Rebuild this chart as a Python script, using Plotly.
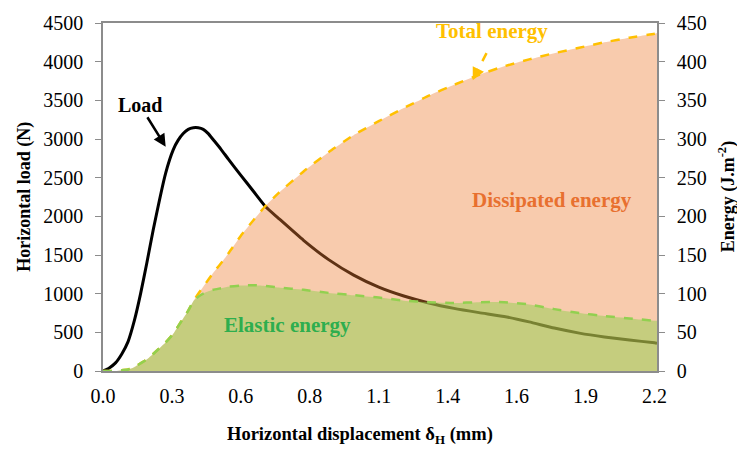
import plotly.graph_objects as go

# displacement (mm) and readings from the curves
disp = [0, 0.025, 0.05, 0.075, 0.1, 0.125, 0.15, 0.175, 0.2, 0.25, 0.28, 0.3, 0.32, 0.34, 0.36, 0.38,
        0.4, 0.42, 0.44, 0.47, 0.5, 0.55, 0.6, 0.65, 0.7, 0.8, 0.9, 1.0, 1.1, 1.2, 1.3,
        1.4, 1.5, 1.6, 1.7, 1.8, 1.9, 2.0, 2.1, 2.2, 2.21]
load = [0, 40, 105, 220, 380, 650, 1000, 1400, 1820, 2560, 2860, 2985, 3070, 3125, 3145, 3145,
        3125, 3070, 2990, 2870, 2740, 2530, 2325, 2120, 1975, 1690, 1440, 1240, 1085, 970, 880,
        810, 755, 705, 635, 555, 490, 440, 400, 365, 360]
total_energy = [0, 0, 0, 1, 2, 5, 10, 15, 22, 37, 48, 58, 68, 78, 90, 100,
                109, 118, 127, 139, 152, 175, 195, 214, 230, 258, 283, 305, 323, 340, 356,
                370, 383, 394, 403, 411, 418, 425, 431, 436, 437]
elastic_energy = [0, 0, 0, 1, 2, 5, 10, 15, 22, 37, 48, 58, 68, 78, 90, 96,
                  100, 103, 105, 107, 109, 110.5, 111, 110, 108, 105, 101, 98, 95, 91, 89,
                  88, 89, 89, 86, 80, 75, 71, 68, 65, 65]

x_ticks = [0, 0.275, 0.55, 0.825, 1.1, 1.375, 1.65, 1.925, 2.2]
x_labels = ["0.0", "0.3", "0.6", "0.8", "1.1", "1.4", "1.6", "1.9", "2.2"]

FONT = "Liberation Serif"
AXIS_GREY = "#8c8c8c"

fig = go.Figure()

# load curve on the left axis (drawn underneath the energy areas)
fig.add_trace(go.Scatter(x=disp, y=load, mode="lines", name="Load",
                         line=dict(color="black", width=3, shape="spline", smoothing=0.5),
                         yaxis="y"))

# total energy area
fig.add_trace(go.Scatter(x=disp, y=total_energy, mode="lines", name="Total energy",
                         fill="tozeroy", fillcolor="rgba(237,125,49,0.4)",
                         line=dict(color="#FFC000", width=2.5, dash="dash", shape="spline", smoothing=0.5),
                         yaxis="y2"))

# elastic energy area
fig.add_trace(go.Scatter(x=disp, y=elastic_energy, mode="lines", name="Elastic energy",
                         fill="tozeroy", fillcolor="rgba(146,208,80,0.5)",
                         line=dict(color="#92D050", width=2.5, dash="dash", shape="spline", smoothing=0.5),
                         yaxis="y2"))

tickfont = dict(family=FONT, size=20, color="black")

fig.update_layout(
    width=737, height=452,
    margin=dict(l=103, r=80, t=18, b=81),
    paper_bgcolor="white", plot_bgcolor="white",
    showlegend=False,
    font=dict(family=FONT, color="black"),
    xaxis=dict(range=[0, 2.21], tickvals=x_ticks, ticktext=x_labels, tickfont=tickfont,
               showgrid=False, zeroline=False, showline=True, linecolor=AXIS_GREY,
               linewidth=1.5, mirror=True, ticks="", ticklabelstandoff=6),
    yaxis=dict(range=[0, 4500], dtick=500, tickfont=tickfont, showgrid=False, zeroline=False,
               showline=True, linecolor=AXIS_GREY, linewidth=1.5, mirror=True,
               ticks="outside", ticklen=6, tickcolor=AXIS_GREY, ticklabelstandoff=8),
    yaxis2=dict(range=[0, 450], dtick=50, tickfont=tickfont, overlaying="y", side="right",
                showgrid=False, zeroline=False, showline=True, linecolor=AXIS_GREY,
                linewidth=1.5, ticks="outside", ticklen=6, tickcolor=AXIS_GREY,
                ticklabelstandoff=8),
)

vbold = dict(family=FONT, size=18, color="black")
bold = dict(family=FONT, size=20, color="black")

# axis titles
fig.add_annotation(text="<b>Horizontal load (N)</b>", xref="paper", yref="paper",
                   x=-0.143, y=0.5, xanchor="center", yanchor="middle",
                   textangle=-90, showarrow=False, font=vbold)
fig.add_annotation(text="<b>Energy (J.m<sup>-2</sup>)</b>", xref="paper", yref="paper",
                   x=1.127, y=0.5, xanchor="center", yanchor="middle",
                   textangle=-90, showarrow=False, font=vbold)
fig.add_annotation(text="<b>Horizontal displacement δ<sub>H</sub> (mm)</b>", xref="paper", yref="paper",
                   x=0.464, y=-0.185, xanchor="center", yanchor="middle",
                   showarrow=False, font=dict(family=FONT, size=18.5, color="black"))

# curve labels
fig.add_annotation(text="<b>Load</b>", x=0.25, y=2900, xref="x", yref="y",
                   ax=-26, ay=-42, showarrow=True, arrowhead=2, arrowsize=1,
                   arrowwidth=2.5, arrowcolor="black", font=bold)

fig.add_annotation(text="<b>Dissipated energy</b>", x=1.79, y=221, xref="x", yref="y2",
                   showarrow=False, font=dict(family=FONT, size=21, color="#E8702F"))
fig.add_annotation(text="<b>Elastic energy</b>", x=0.737, y=60, xref="x", yref="y2",
                   showarrow=False, font=dict(family=FONT, size=21, color="#2EAE4E"))
fig.add_annotation(text="<b>Total energy</b>", x=1.55, y=440, xref="x", yref="y2",
                   showarrow=False, font=dict(family=FONT, size=21, color="#FFC000"))

# dashed arrow for total energy
fig.add_shape(type="line", xref="x", yref="y2", x0=1.53, y0=411, x1=1.49, y1=386,
              line=dict(color="#FFC000", width=2.5, dash="dash"))
fig.add_annotation(text="", x=1.475, y=376, xref="x", yref="y2",
                   ax=5, ay=-10, showarrow=True, arrowhead=2, arrowsize=1,
                   arrowwidth=2.5, arrowcolor="#FFC000")

# page body has a default 8px margin; drop it so the figure sits at the window origin
fig.write_html("out.html", config={"displayModeBar": False},
               post_script="document.body.style.margin='0';")
